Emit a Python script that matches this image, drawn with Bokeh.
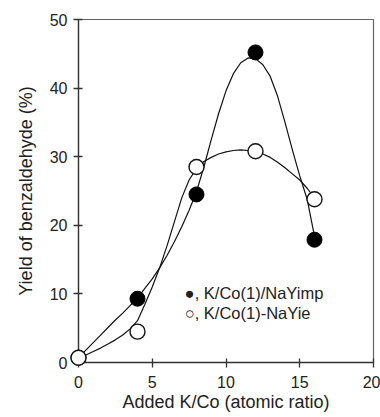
from bokeh.plotting import figure
from bokeh.models import Range1d, Label, FixedTicker
from bokeh.embed import file_html
from bokeh.resources import INLINE

# measured points
x_pts = [0, 4, 8, 12, 16]
imp_y = [0.7, 9.3, 24.5, 45.2, 17.9]   # K/Co(1)/NaYimp (filled)
ie_y = [0.7, 4.5, 28.5, 30.8, 23.8]    # K/Co(1)-NaYie (open)

# fitted curves
curve_x = [0, 0.5, 1, 1.5, 2, 2.5, 3, 3.5, 4, 4.5, 5, 5.5, 6, 6.5, 7, 7.5, 8,
           8.5, 9, 9.5, 10, 10.5, 11, 11.5, 12, 12.5, 13, 13.5, 14, 14.5, 15, 15.5, 16]
imp_curve = [0.7, 1.8, 2.9, 4.0, 5.1, 6.2, 7.2, 8.3, 9.4, 10.8, 12.2, 13.8, 15.6,
             17.6, 19.8, 22.2, 24.9, 28.5, 32.5, 36.3, 39.6, 42.1, 43.7, 44.4, 44.3,
             43.4, 41.7, 38.8, 35.0, 31.0, 27.2, 23.8, 18.4]
ie_curve = [0.7, 1.1, 1.6, 2.1, 2.7, 3.3, 4.0, 4.9, 6.1, 8.5, 11.0, 13.8, 17.0,
            20.5, 24.0, 26.6, 28.3, 29.3, 29.9, 30.4, 30.7, 30.9, 31.0, 30.9, 30.8,
            30.4, 29.9, 29.2, 28.4, 27.5, 26.6, 25.4, 24.0]

x_ticks = [0, 5, 10, 15, 20]
y_ticks = [0, 10, 20, 30, 40, 50]

FONT = "Liberation Sans"

p = figure(width=380, height=417, output_backend="svg", toolbar_location=None,
           x_range=Range1d(0, 20), y_range=Range1d(0, 50),
           min_border_left=78, min_border_right=7, min_border_top=19, min_border_bottom=55)
p.grid.visible = False
p.outline_line_color = "#666666"
p.outline_line_width = 1.2

for ax in (p.xaxis[0], p.yaxis[0]):
    ax.axis_line_color = "#333333"
    ax.axis_line_width = 1.3
    ax.major_tick_line_color = "#333333"
    ax.major_tick_line_width = 1.3
    ax.minor_tick_line_color = None
    ax.major_tick_in = 4
    ax.major_tick_out = 5
    ax.major_label_text_font = FONT
    ax.major_label_text_font_size = "16px"
    ax.major_label_text_color = "#222222"
    ax.axis_label_text_font = FONT
    ax.axis_label_text_font_size = "18px"
    ax.axis_label_text_font_style = "normal"
    ax.axis_label_text_color = "#222222"

p.xaxis.ticker = FixedTicker(ticks=x_ticks)
p.yaxis.ticker = FixedTicker(ticks=y_ticks)
p.xaxis.axis_label = "Added K/Co (atomic ratio)"
p.yaxis.axis_label = "Yield of benzaldehyde (%)"
p.xaxis.major_label_standoff = 8
p.yaxis.major_label_standoff = 6
p.xaxis.axis_label_standoff = 1
p.yaxis.axis_label_standoff = 11

p.line(curve_x, imp_curve, line_color="#111111", line_width=1.2)
p.line(curve_x, ie_curve, line_color="#111111", line_width=1.2)

r1 = p.scatter(x_pts, imp_y, marker="circle", size=15, fill_color="black", line_color="black")
r2 = p.scatter(x_pts, ie_y, marker="circle", size=15, fill_color="white",
               line_color="#111111", line_width=1.4)
r1.level = "overlay"
r2.level = "overlay"

p.add_layout(Label(x=7.2, y=10.1, text="\u25cf, K/Co(1)/NaYimp", text_font=FONT,
                   text_font_size="16.5px", text_color="#222222", text_baseline="middle"))
p.add_layout(Label(x=7.2, y=7.2, text="\u25cb, K/Co(1)-NaYie", text_font=FONT,
                   text_font_size="16.5px", text_color="#222222", text_baseline="middle"))

open("out.html", "w").write(file_html(p, INLINE))
